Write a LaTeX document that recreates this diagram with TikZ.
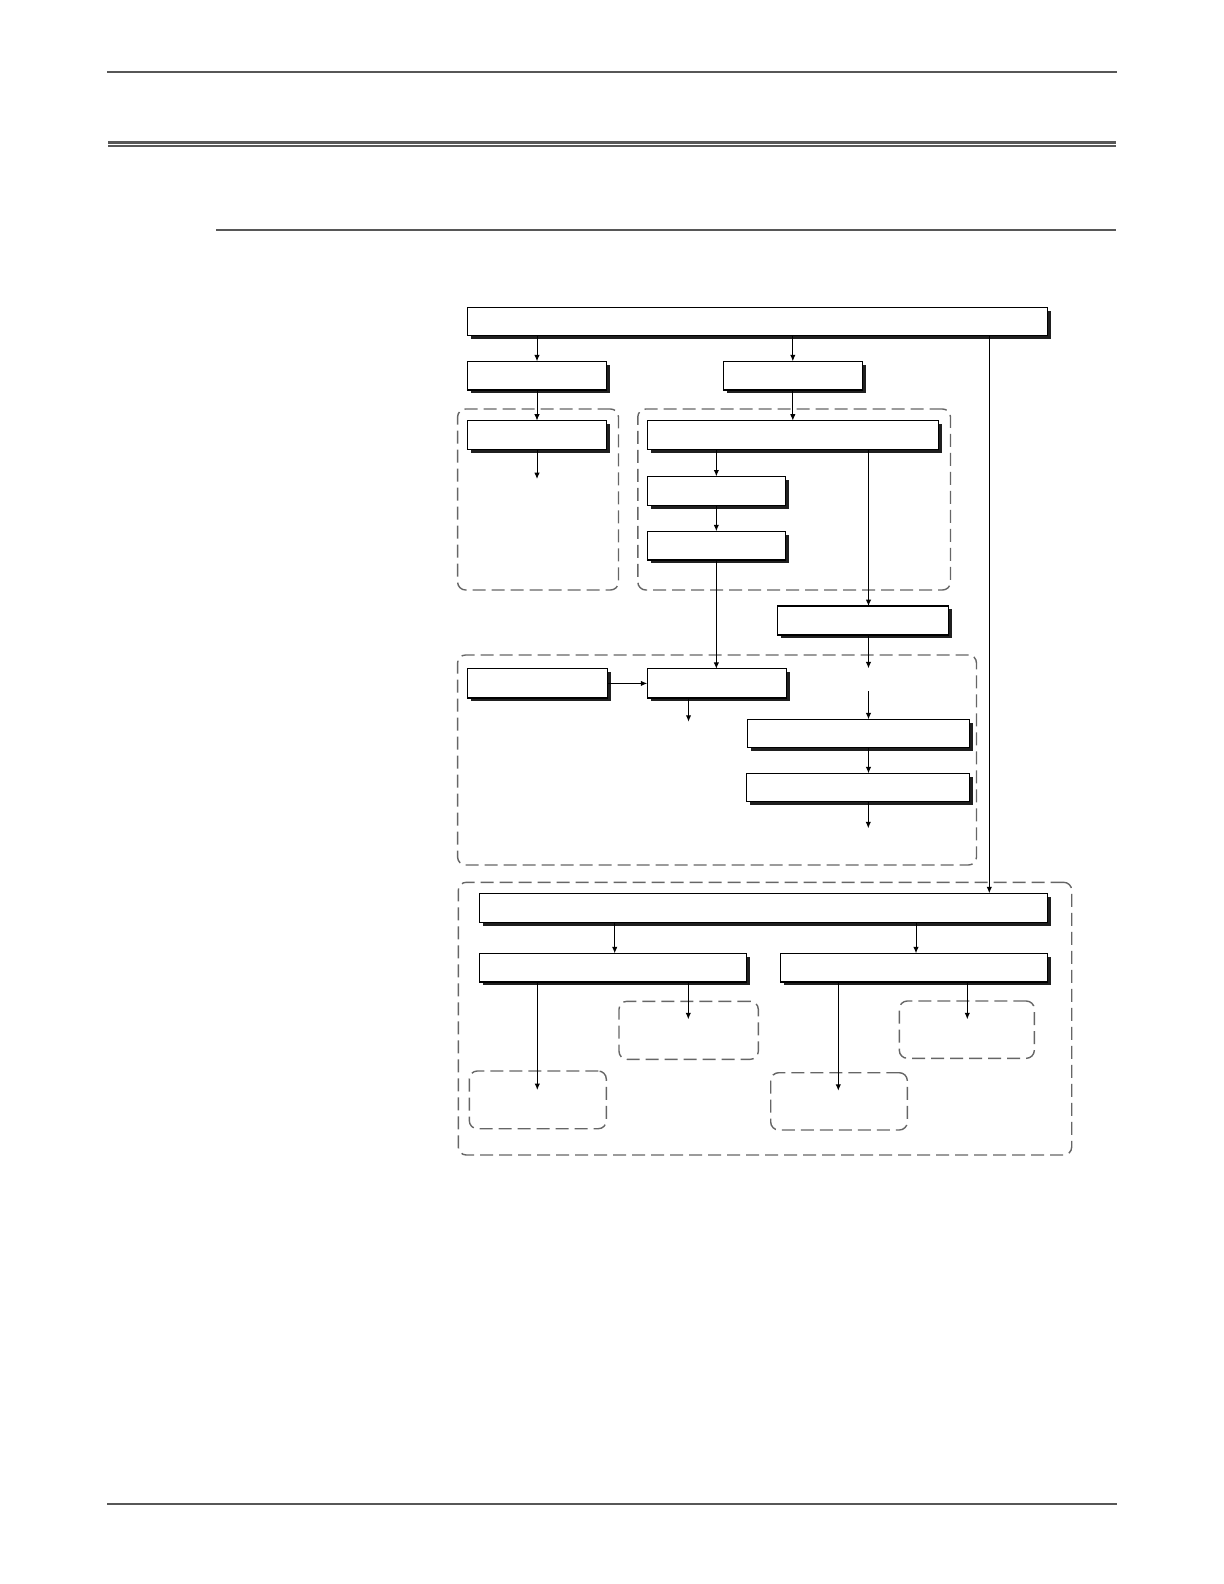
\documentclass[tikz,border=0pt]{standalone}
\usetikzlibrary{shadows,arrows.meta}
\definecolor{rulegray}{HTML}{575757}
\definecolor{dashgray}{HTML}{666666}
\tikzset{
  pbox/.style={draw=black, line width=0.6pt, fill=white, inner sep=0pt, outer sep=0pt,
    drop shadow={shadow xshift=1.7pt, shadow yshift=-1.7pt, fill=black!88, opacity=1}},
  grp/.style={draw=dashgray, line width=0.7pt, dash pattern=on 6.5pt off 3pt,
    rounded corners=4pt, inner sep=0pt, outer sep=0pt},
  arr/.style={draw=black, line width=0.5pt, -{Latex[length=3.2pt,width=2.7pt]}},
  hrule/.style={draw=rulegray, line cap=butt}
}
\newcommand\bx[6][pbox]{\node[#1, minimum width={(#5-#3)*0.5pt}, minimum height={(#6-#4)*0.5pt}] (#2) at ({(#3+#5)/2},{(#4+#6)/2}) {};}
\begin{document}
\begin{tikzpicture}[x=0.5pt,y=-0.5pt]
\useasboundingbox (0,0) rectangle (1224,1584);
% page rules
\draw[hrule, line width=1pt] (107,72) -- (1117,72);
\draw[hrule, line width=1.5pt] (108,142.3) -- (1116,142.3);
\draw[hrule, line width=0.85pt] (108,146.2) -- (1116,146.2);
\draw[hrule, line width=1pt] (216,230) -- (1116,230);
\draw[hrule, line width=1pt] (107,1503.7) -- (1117,1503.7);
% dashed groups
\bx[grp]{g1}{457.6}{409}{618.5}{590}
\bx[grp]{g2}{637.8}{409}{950.5}{590}
\bx[grp]{g3}{457.6}{655}{976.5}{865}
\bx[grp]{g4}{458.3}{882.3}{1071.7}{1155}
\bx[grp]{p1}{619}{1001.3}{758.3}{1059.3}
\bx[grp]{q1}{469.3}{1071}{606.3}{1128.7}
\bx[grp]{p2}{899.3}{1001}{1034.3}{1058.3}
\bx[grp]{q2}{770.7}{1072.7}{907.3}{1130}
% boxes
\bx{T}{467.7}{307.3}{1047.3}{335.7}
\bx{A}{467.7}{361.3}{606.3}{390}
\bx{B}{723.3}{361.3}{862.3}{390}
\bx{C}{467.5}{420.6}{606.5}{449.5}
\bx{D}{647.2}{420.6}{938.6}{449.5}
\bx{E}{647.2}{476.4}{785.5}{505.3}
\bx{F}{647.2}{531.2}{785.5}{560}
\bx{G}{777.4}{606}{948.8}{635}
\bx{I}{467.4}{668.8}{607.3}{698}
\bx{H}{647.2}{668.8}{786.5}{698}
\bx{J}{747.3}{719.3}{969.3}{747.7}
\bx{K}{746.7}{773.3}{969.3}{801.7}
\bx{L}{479.3}{893.3}{1047.7}{922.7}
\bx{M}{479.3}{953.3}{746.7}{982}
\bx{N}{780.7}{953.3}{1047.7}{982}
% helper coordinates
\coordinate (xg) at (868.5,0);
\coordinate (xv) at (989.3,0);
\coordinate (xl) at (614.7,0);
\coordinate (xn) at (916,0);
\coordinate (c1) at (537,479);
\coordinate (h1) at (688.5,721.7);
\coordinate (g1e) at (868.5,668.3);
\coordinate (g2s) at (868.5,691);
\coordinate (k1) at (868.3,828.3);
\coordinate (m1) at (537.3,1090);
\coordinate (m2) at (688.3,1019.3);
\coordinate (n1) at (838.3,1090.7);
\coordinate (n2) at (967.3,1019.3);
% connectors
\draw[arr] (T.south -| A.north) -- (A.north);
\draw[arr] (T.south -| B.north) -- (B.north);
\draw[arr] (A.south) -- (C.north);
\draw[arr] (C.south -| c1) -- (c1);
\draw[arr] (B.south) -- (D.north -| B.south);
\draw[arr] (D.south -| E.north) -- (E.north);
\draw[arr] (E.south) -- (F.north);
\draw[arr] (D.south -| xg) -- (G.north -| xg);
\draw[arr] (F.south) -- (H.north -| F.south);
\draw[arr] (I.east) -- (H.west);
\draw[arr] (H.south -| h1) -- (h1);
\draw[arr] (G.south -| xg) -- (g1e);
\draw[arr] (g2s) -- (J.north -| g2s);
\draw[arr] (J.south -| g2s) -- (K.north -| g2s);
\draw[arr] (K.south -| k1) -- (k1);
\draw[arr] (T.south -| xv) -- (L.north -| xv);
\draw[arr] (L.south -| xl) -- (M.north -| xl);
\draw[arr] (L.south -| xn) -- (N.north -| xn);
\draw[arr] (M.south -| m1) -- (m1);
\draw[arr] (M.south -| m2) -- (m2);
\draw[arr] (N.south -| n1) -- (n1);
\draw[arr] (N.south -| n2) -- (n2);
\end{tikzpicture}
\end{document}
